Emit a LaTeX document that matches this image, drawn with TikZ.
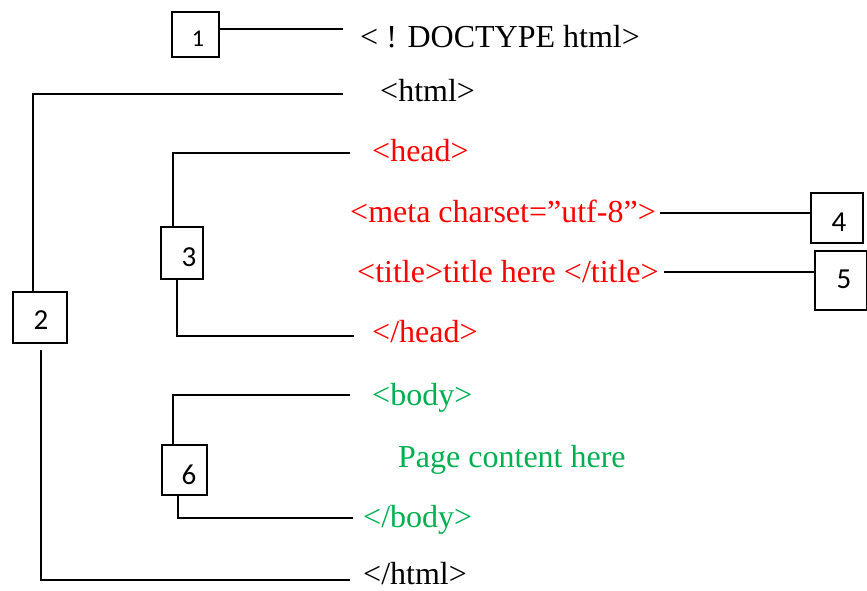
\documentclass[tikz,border=0pt]{standalone}
\usepackage{fontspec}
\setmainfont{Liberation Serif}
\newfontfamily\digitfont{Carlito}
\definecolor{tagred}{HTML}{FF0000}
\definecolor{taggreen}{HTML}{00B050}
\begin{document}
\begin{tikzpicture}[x=1pt,y=-1pt,
  box/.style={draw=black, line width=2.6pt, inner sep=0pt},
  digit/.style={inner sep=0pt, font=\digitfont\fontsize{29}{32}\selectfont},
  tag/.style={anchor=base west, inner sep=0pt, font=\fontsize{32}{38}\selectfont},
  conn/.style={draw=black, line width=1.2pt}]
\useasboundingbox (0,0) rectangle (867,590);

% text lines
\node[tag] (doctype) at (360,47) {< ! DOCTYPE html>};
\node[tag] (html) at (380,101) {<html>};
\node[tag, text=tagred] (head) at (372,161) {<head>};
\node[tag, text=tagred] (meta) at (350,222) {<meta charset=”utf-8”>};
\node[tag, text=tagred] (title) at (357,282) {<title>title here </title>};
\node[tag, text=tagred] (ehead) at (372,342) {</head>};
\node[tag, text=taggreen] (body) at (372,405) {<body>};
\node[tag, text=taggreen] (content) at (398,467) {Page content here};
\node[tag, text=taggreen] (ebody) at (363,527) {</body>};
\node[tag] (ehtml) at (363,584) {</html>};

% boxes
\node[box, minimum width=47pt, minimum height=45pt] (b1) at (195.5,34.5) {};
\node[digit, font=\digitfont\fontsize{24}{27}\selectfont] (d1) at ([shift={(2.5,4.5)}]b1.center) {1};
\node[box, minimum width=54pt, minimum height=51pt] (b2) at (40,317.5) {};
\node[digit] (d2) at ([shift={(1,2.5)}]b2.center) {2};
\node[box, minimum width=42pt, minimum height=52pt] (b3) at (182,253) {};
\node[digit] (d3) at ([shift={(7,4)}]b3.center) {3};
\node[box, minimum width=52pt, minimum height=50pt] (b4) at (837,218) {};
\node[digit] (d4) at ([shift={(2,4)}]b4.center) {4};
\node[box, minimum width=52pt, minimum height=59pt] (b5) at (841,280.5) {};
\node[digit] (d5) at ([shift={(3,-1.5)}]b5.center) {5};
\node[box, minimum width=45pt, minimum height=50pt] (b6) at (184.5,470) {};
\node[digit] (d6) at ([shift={(4.5,5)}]b6.center) {6};

% connector end points
\coordinate (e1) at (343,29);
\coordinate (e2a) at (343,94);
\coordinate (e2b) at (350,580);
\coordinate (e3a) at (350,153);
\coordinate (e3b) at (354,336);
\coordinate (e4) at (660,213);
\coordinate (e5) at (664,272);
\coordinate (e6a) at (350,395);
\coordinate (e6b) at (353,518);

% connectors
\draw[conn] (b1.east |- e1) -- (e1);
\draw[conn] (b2.north -| 33,0) |- (e2a);
\draw[conn] (b2.south -| 41,0) ++(0,6) |- (e2b);
\draw[conn] (b3.north -| 173,0) |- (e3a);
\draw[conn] (b3.south -| 177,0) |- (e3b);
\draw[conn] (e4) -- (b4.west |- e4);
\draw[conn] (e5) -- (b5.west |- e5);
\draw[conn] (b6.north -| 173,0) |- (e6a);
\draw[conn] (b6.south -| 178,0) |- (e6b);
\end{tikzpicture}
\end{document}
